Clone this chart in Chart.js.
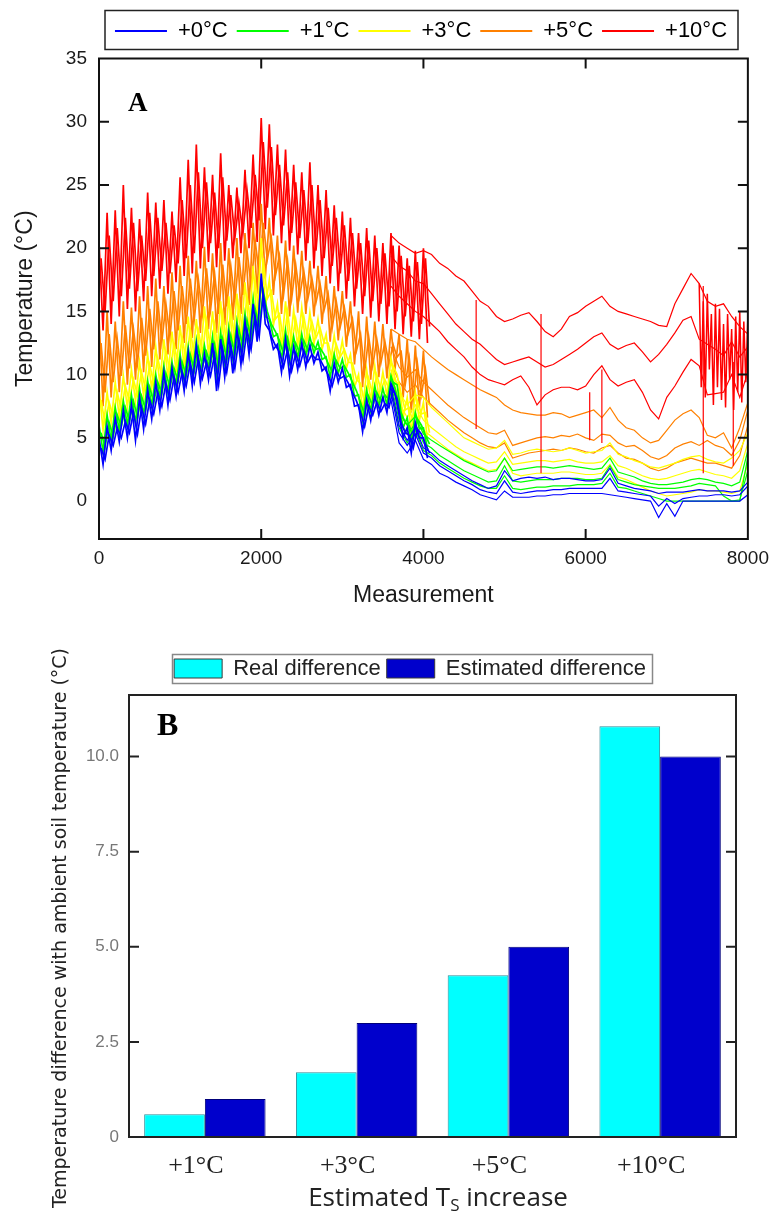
<!DOCTYPE html>
<html>
<head>
<meta charset="utf-8">
<script src="https://cdn.jsdelivr.net/npm/chart.js@4.4.1/dist/chart.umd.min.js"></script>
<style>
  html, body { margin: 0; padding: 0; background: #fff; }
  #page { position: relative; width: 777px; height: 1213px; }
  #chartA { position: absolute; left: 0; top: 0; }
  #chartB { position: absolute; left: 0; top: 612px; }
</style>
</head>
<body>
<div id="page">
  <canvas id="chartA" width="777" height="612"></canvas>
  <canvas id="chartB" width="777" height="601"></canvas>
</div>
<script>
// ---------- Panel A : soil temperature per warming treatment ----------
const treatments = ['+0°C', '+1°C', '+3°C', '+5°C', '+10°C'];
const xTicksA = [0, 2000, 4000, 6000, 8000];
const yTicksA = [0, 5, 10, 15, 20, 25, 30, 35];

// first part (noisy): daily max / min of two sensors per treatment, every 100 measurements
const bandX = Array.from({ length: 41 }, (_, i) => i * 100);
const blueHi = [5.0,5.9,6.6,7.2,7.6,8.2,8.8,9.4,10.2,10.5,11.0,11.8,12.3,11.6,12.5,12.8,13.1,13.6,14.2,15.6,18.0,13.5,12.4,12.8,12.2,12.5,12.3,11.8,10.6,10.9,10.5,9.2,7.6,8.0,8.4,8.2,9.3,6.8,5.8,6.2,5.0];
const blueLo = [2.9,4.0,4.7,5.0,4.8,5.7,6.5,7.2,7.6,8.3,8.7,9.1,9.3,9.6,8.7,9.8,10.1,10.8,11.6,12.6,14.0,12.0,10.2,9.9,10.4,10.6,10.9,10.3,8.7,9.4,9.0,7.5,5.5,6.4,6.8,7.0,8.5,5.0,3.8,5.0,3.4];
const blueHi2 = [4.2,5.2,5.8,6.3,7.0,7.4,8.0,8.6,9.3,9.8,10.2,10.9,11.3,11.0,11.6,12.0,12.3,12.8,13.5,14.6,16.4,13.0,11.8,12.0,11.7,11.9,11.6,11.2,10.0,10.3,9.9,8.6,7.0,7.5,7.8,7.7,8.8,6.2,5.2,5.7,4.5];
const blueLo2 = [3.3,4.4,5.0,5.4,5.3,6.1,6.9,7.5,8.0,8.6,9.1,9.4,9.7,9.9,9.2,10.2,10.5,11.1,12.0,13.0,14.4,12.3,10.6,10.3,10.7,11.0,11.2,10.6,9.1,9.7,9.3,7.9,5.9,6.8,7.1,7.4,8.1,5.4,4.2,5.3,3.8];
const greenHi = [6.0,6.8,7.4,7.9,8.4,8.9,9.5,10.0,10.7,11.0,11.6,12.2,12.7,12.3,13.0,13.3,13.7,14.2,14.8,16.0,17.4,14.4,13.2,13.5,13.0,13.2,13.0,12.6,11.4,11.6,11.2,10.0,8.4,8.8,9.1,8.9,9.9,7.6,6.6,7.0,5.8];
const greenLo = [3.9,4.8,5.6,6.0,6.2,6.8,7.5,8.2,8.6,9.2,9.5,9.9,10.2,10.5,10.0,10.8,11.2,11.8,12.5,13.4,14.6,13.0,11.2,11.0,11.3,11.5,11.7,11.2,9.8,10.1,9.8,8.3,6.4,7.1,7.5,7.6,8.9,5.8,4.6,5.7,4.1];
const greenHi2 = [5.4,6.2,6.8,7.4,7.9,8.3,9.0,9.4,10.1,10.5,11.0,11.6,12.1,11.8,12.4,12.8,13.1,13.6,14.3,15.2,16.6,14.0,12.7,12.9,12.5,12.7,12.5,12.1,10.9,11.1,10.7,9.4,7.8,8.3,8.6,8.4,9.4,7.0,6.0,6.5,5.2];
const greenLo2 = [4.3,5.1,5.9,6.3,6.6,7.2,7.8,8.5,9.0,9.5,9.9,10.3,10.6,10.8,10.4,11.1,11.5,12.1,12.8,13.8,15.0,13.4,11.6,11.4,11.7,11.9,12.0,11.6,10.2,10.5,10.1,8.7,6.8,7.5,7.9,8.0,9.2,6.2,5.0,6.0,4.5];
const yellowHi = [9.0,8.6,9.4,9.9,10.4,11.0,11.6,12.2,12.8,13.4,13.9,14.6,14.4,15.4,15.0,15.8,16.2,16.4,17.3,18.6,20.8,17.5,15.6,15.8,15.1,15.3,14.9,14.4,13.2,13.1,12.7,11.6,10.0,10.4,10.7,10.2,11.3,9.2,8.2,8.6,7.8];
const yellowLo = [5.6,6.2,6.6,7.4,7.9,8.3,8.8,9.3,9.7,10.2,10.5,10.9,11.2,11.5,11.2,11.8,12.2,12.7,13.4,14.2,15.3,13.9,12.1,11.9,12.2,12.3,12.4,12.0,10.7,10.9,10.5,9.0,7.1,7.9,8.2,8.3,9.5,6.6,5.4,6.4,4.8];
const yellowHi2 = [8.0,7.8,8.6,9.1,9.6,10.2,10.8,11.3,11.9,12.5,13.0,13.6,13.5,14.3,14.0,14.8,15.1,15.5,16.2,17.4,19.2,16.6,14.8,15.0,14.4,14.6,14.2,13.7,12.5,12.4,12.0,10.9,9.3,9.7,10.0,9.6,10.7,8.5,7.4,7.9,7.0];
const yellowLo2 = [6.1,6.7,7.2,7.9,8.4,8.8,9.3,9.8,10.2,10.7,11.0,11.4,11.7,12.0,11.7,12.3,12.7,13.2,13.9,14.8,16.0,14.4,12.6,12.4,12.7,12.8,12.9,12.5,11.2,11.4,11.0,9.6,7.7,8.4,8.8,8.9,10.0,7.2,6.0,6.9,5.4];
const orangeHi = [14.5,15.0,14.2,15.8,15.3,16.2,17.0,17.6,17.0,18.1,18.6,19.4,19.0,20.1,19.6,20.4,20.0,20.8,21.2,22.0,23.5,22.4,21.0,20.6,20.2,19.8,19.0,18.6,17.8,17.0,16.6,15.8,15.0,14.6,14.2,14.0,13.6,13.2,12.8,12.3,11.9];
const orangeLo = [7.5,8.2,8.6,9.2,9.6,10.2,10.6,11.2,11.6,12.0,12.5,12.9,13.3,13.6,13.3,13.9,14.3,14.8,15.5,16.4,17.6,16.3,14.8,14.6,14.9,14.8,14.6,14.0,12.6,12.7,12.2,10.8,9.0,9.6,9.8,9.7,10.5,8.2,7.0,7.4,6.6];
const orangeHi2 = [12.5,13.2,12.8,13.9,13.6,14.5,15.2,15.8,15.6,16.6,17.0,17.6,17.5,18.4,18.0,18.7,18.6,19.3,19.8,20.6,22.0,20.8,19.4,19.0,18.7,18.2,17.6,17.2,16.4,15.8,15.3,14.4,13.2,13.0,12.8,12.6,12.4,11.8,11.3,10.9,10.4];
const orangeLo2 = [8.6,9.4,9.9,10.5,10.9,11.5,12.0,12.6,13.0,13.5,14.0,14.4,14.8,15.1,14.8,15.4,15.8,16.3,17.0,17.9,19.1,17.8,16.3,16.0,16.2,16.0,15.7,15.1,13.7,13.8,13.3,11.9,10.2,10.7,10.9,10.8,11.4,9.2,8.0,8.4,7.6];
const redHi = [20.5,22.8,23.0,25.0,23.2,22.3,24.4,23.6,23.8,22.9,25.6,27.0,28.2,26.4,25.8,27.5,25.0,24.8,26.2,27.4,30.3,29.8,28.2,27.8,26.6,26.0,26.8,25.0,24.6,23.4,22.9,22.4,21.2,21.6,21.0,20.4,21.2,20.2,19.2,19.8,20.0];
const redLo = [13.5,14.0,14.6,15.2,15.0,15.8,16.2,16.8,16.4,17.3,17.8,18.0,18.4,18.9,18.5,19.0,19.2,19.6,20.0,20.5,21.5,21.0,20.4,19.8,19.5,19.0,18.4,17.8,17.2,16.6,16.0,15.4,14.8,14.5,14.2,14.0,13.6,13.2,13.0,12.8,12.5];
const redHi2 = [19.2,21.0,21.6,22.4,22.0,21.0,22.8,22.4,22.0,21.8,23.8,25.0,26.0,25.2,24.4,25.6,24.2,23.6,24.6,25.8,28.4,28.0,26.6,26.0,25.2,24.6,25.0,23.8,23.2,22.4,21.8,21.2,20.4,20.6,20.0,19.6,20.2,19.4,18.6,18.9,19.2];
const redLo2 = [15.0,15.8,16.2,16.8,16.6,17.4,17.8,18.2,18.0,18.8,19.2,19.6,20.0,20.4,20.0,20.6,20.8,21.2,21.6,22.2,23.2,22.6,21.8,21.2,20.8,20.4,19.8,19.2,18.6,18.0,17.4,16.8,16.2,15.8,15.6,15.4,15.0,14.6,14.2,14.0,13.8];

// second part: single sensors, every 100 measurements from 3600 to 8000
const lateX = Array.from({ length: 45 }, (_, i) => 3600 + i * 100);
const blue1 = [8.0,4.6,3.8,4.8,3.3, 2.9,2.2,1.9,1.5,1.2, 0.9,0.5,0.3,0.1,0.8, 0.3,0.3,0.3,0.4,0.4, 0.5,0.5,0.6,0.6,0.6, 0.6,0.6,0.5,0.4,0.3, 0.2,0.1,0.0,-1.3,-0.2, -1.2,0.0,0.0,0.0,0.0, 0.0,0.0,0.0,0.0,0.5];
const blue2 = [8.6,5.4,4.4,5.3,3.8, 3.4,2.8,2.4,2.0,1.6, 1.3,0.9,0.7,0.6,1.6, 0.7,0.6,0.7,0.8,0.8, 0.9,0.9,1.0,1.0,1.0, 1.0,1.0,1.8,0.8,0.7, 0.6,0.5,0.4,-0.4,0.2, -0.2,0.2,0.3,0.4,0.4, 0.5,0.5,0.4,0.5,1.2];
const blue3 = [9.0,6.0,4.8,5.8,4.2, 3.8,3.2,2.8,2.4,2.0, 1.6,1.3,1.0,1.2,2.4, 1.6,1.8,1.9,1.8,1.9, 1.7,1.8,1.8,1.7,1.6, 1.6,1.7,2.6,1.4,1.2, 1.0,0.9,0.8,0.6,0.7, 0.7,0.7,0.8,0.9,0.8, 0.8,0.8,0.7,0.8,1.5];
const green1 = [8.8,5.8,4.6,5.6,4.0, 3.6,3.0,2.6,2.2,1.8, 1.5,1.2,1.0,1.0,2.0, 1.0,0.9,1.0,1.1,1.1, 1.2,1.2,1.2,1.3,1.3, 1.3,1.4,2.2,1.1,1.0, 0.8,0.6,0.4,0.2,0.0, 0.0,0.0,0.0,0.0,0.0, 0.0,0.0,0.0,0.1,2.4];
const green2 = [9.3,6.4,5.3,6.1,4.6, 4.2,3.6,3.2,2.8,2.4, 2.1,1.8,1.5,1.6,2.8, 1.6,1.5,1.6,1.7,1.7, 1.7,1.8,1.8,1.8,1.7, 1.7,1.8,2.8,1.7,1.5, 1.3,1.2,1.1,1.0,1.0, 1.0,1.1,1.2,1.4,1.3, 1.2,0.4,0.0,0.0,3.5];
const green3 = [9.7,7.0,6.0,6.7,5.3, 4.8,4.4,4.0,3.6,3.2, 2.9,2.6,2.3,2.4,3.4, 2.4,2.5,2.6,2.7,2.7, 2.6,2.7,2.8,2.7,2.6, 2.5,2.6,3.4,2.3,2.1, 1.9,1.6,1.4,1.3,1.3, 1.4,1.5,1.7,1.8,1.7, 1.5,1.4,1.2,1.5,4.0];
const yellow1 = [10.0,7.2,6.0,7.0,5.6, 5.1,4.6,4.1,3.7,3.3, 3.0,2.7,2.4,2.5,3.4, 2.2,2.0,2.1,2.2,2.2, 2.2,2.3,2.3,2.2,2.1, 2.1,2.2,2.9,1.9,1.7, 1.4,1.1,0.8,0.6,0.4, 0.5,0.6,0.7,0.9,0.8, 0.8,0.7,0.6,0.8,3.0];
const yellow2 = [10.4,7.8,6.6,7.6,6.4, 5.8,5.3,4.8,4.3,3.9, 3.6,3.3,3.0,3.1,3.9, 2.9,3.0,3.1,3.2,3.2, 3.1,3.2,3.3,3.1,3.0, 3.0,3.1,3.6,2.8,2.6, 2.3,2.0,1.8,1.7,1.8, 2.0,2.2,2.4,2.5,2.3, 2.1,2.0,1.8,2.4,4.6];
const yellow3 = [11.0,8.6,7.6,8.4,8.2, 7.4,6.8,6.2,5.6,5.0, 4.7,4.4,4.1,4.2,4.8, 3.7,3.8,4.0,4.1,4.0, 3.9,4.0,4.2,4.0,3.8, 3.9,4.0,4.6,3.7,3.5, 3.2,3.0,2.7,2.6,2.8, 3.0,3.3,3.5,3.6,3.3, 3.1,3.0,3.4,4.0,5.4];
const orange1 = [13.6,13.2,12.8,12.6,12.0, 11.4,10.9,10.4,10.0,9.6, 9.2,8.8,8.5,8.2,7.6, 7.2,7.0,6.9,6.8,6.8, 7.0,6.9,6.6,6.8,7.0, 7.2,6.6,7.4,6.4,5.8, 5.6,5.0,4.6,4.8,5.6, 6.4,6.9,7.2,6.6,5.2, 5.0,5.4,4.2,5.8,7.8];
const orange2 = [12.2,10.6,9.8,10.4,9.4, 8.8,8.2,7.6,7.1,6.6, 6.2,5.8,5.4,5.3,5.6, 4.4,4.6,4.8,5.0,5.1, 5.0,5.2,5.1,5.3,5.0, 4.8,5.3,5.2,4.6,4.3, 4.4,4.0,3.5,3.3,3.6, 4.2,4.5,4.7,4.4,4.8, 4.4,4.2,3.6,4.8,7.2];
const orange3 = [11.0,9.4,8.6,9.2,8.2, 7.6,7.0,6.4,5.9,5.4, 5.0,4.6,4.3,4.2,4.6, 3.4,3.6,3.8,3.9,4.0, 4.1,4.0,4.2,4.1,3.9, 3.8,4.2,4.4,3.8,3.4, 3.3,3.0,2.6,2.4,2.6, 3.0,3.2,3.4,3.2,3.0, 3.0,2.8,2.6,3.6,6.0];
const red1 = [21.0,20.4,20.0,19.6,19.8, 19.5,18.8,18.4,17.8,17.4, 16.6,15.8,15.4,14.6,14.2, 14.4,14.7,14.9,14.2,13.4, 13.0,13.6,14.6,14.9,15.4, 15.8,16.2,15.4,15.0,14.8, 14.6,14.4,14.2,13.9,13.8, 15.6,16.8,18.0,17.2,15.8, 15.4,15.6,14.6,13.8,13.2];
const red2 = [19.4,18.6,18.2,17.4,17.2, 16.4,15.6,14.8,14.0,13.4, 12.8,12.4,11.8,11.2,10.8, 11.0,11.2,11.4,11.0,10.6, 10.8,11.2,11.6,12.0,12.5, 13.0,13.3,12.4,12.0,12.3, 12.5,11.8,11.0,11.6,12.4, 13.3,14.3,14.6,12.8,12.4, 12.0,11.5,12.6,11.4,12.2];
const red3 = [17.0,16.2,15.6,15.0,14.6, 14.0,13.4,12.6,12.0,11.4, 10.6,10.0,9.6,9.4,9.2, 9.6,9.9,9.0,7.6,8.4, 8.8,9.0,9.0,8.8,9.1, 10.0,10.7,9.6,9.1,9.4, 9.6,8.6,7.2,6.5,8.2, 9.1,10.2,11.2,10.7,8.4, 8.5,8.6,10.0,8.2,10.2];

// noisy end of the +10°C sensors (max / min every 50 measurements)
const redEndX = Array.from({ length: 13 }, (_, i) => 7400 + i * 50);
const redEndHi = [17.2,15.8,16.4,14.8,15.6,15.2,14.0,14.8,13.6,14.6,15.0,14.2,14.6];
const redEndLo = [9.0,8.2,10.4,7.6,9.0,8.0,7.4,9.6,7.2,8.6,7.8,9.4,10.0];

// sensor glitches of the +10°C plot: [measurement, from, to]
const redGlitches = [[4650, 15.9, 5.7], [5450, 14.8, 2.2], [6050, 8.6, 4.8], [6200, 10.4, 4.6], [7450, 17.0, 2.2], [7820, 11.0, 2.8]];

// ---------- Panel B : real vs estimated warming ----------
const groups = ['+1°C', '+3°C', '+5°C', '+10°C'];
const realDiff = [0.6, 1.7, 4.25, 10.8];
const estimatedDiff = [1.0, 3.0, 5.0, 10.0];
const yTicksB = [0, 2.5, 5, 7.5, 10];

const colors = { blue: '#0000ff', green: '#00ff00', yellow: '#ffff00', orange: '#ff8000', red: '#ff0000' };
const legendColors = [colors.blue, colors.green, colors.yellow, colors.orange, colors.red];

function zigzag(xs, hi, lo, half, shift) {
  const pts = [];
  xs.forEach((x, i) => {
    pts.push({ x: x + shift, y: hi[i] });
    pts.push({ x: x + shift + half, y: lo[i] });
  });
  return pts;
}
function sensor(ys) {
  return lateX.map((x, i) => ({ x: x, y: ys[i] }));
}
function line(data, color, width) {
  return { data: data, borderColor: color, backgroundColor: color, borderWidth: width || 1.2, pointRadius: 0, tension: 0, fill: false };
}

// frame, inward ticks, legend box, panel letters and hand-set titles
function overlay(cfg) {
  return {
    id: 'overlay',
    afterLayout(chart) {
      const lg = chart.legend;
      const dx = cfg.legendCx - (lg.left + lg.right) / 2;
      lg.left += dx; lg.right += dx;
      lg.top += cfg.legendDy; lg.bottom += cfg.legendDy;
    },
    afterDraw(chart) {
      const { ctx, chartArea: a, scales } = chart;
      ctx.save();
      ctx.strokeStyle = cfg.frameColor;
      ctx.lineWidth = 2;
      ctx.beginPath();
      cfg.yTicks.forEach(v => {
        const y = scales.y.getPixelForValue(v);
        ctx.moveTo(a.left, y); ctx.lineTo(a.left + 10, y);
        ctx.moveTo(a.right, y); ctx.lineTo(a.right - 10, y);
      });
      cfg.xTicks.forEach(v => {
        const x = scales.x.getPixelForValue(v);
        ctx.moveTo(x, a.top); ctx.lineTo(x, a.top + 10);
        ctx.moveTo(x, a.bottom); ctx.lineTo(x, a.bottom - 10);
      });
      ctx.stroke();
      ctx.strokeRect(a.left, a.top, a.width, a.height);
      const b = cfg.legendBox;
      ctx.strokeStyle = cfg.legendBoxColor;
      ctx.lineWidth = 1.5;
      ctx.strokeRect(b[0], b[1], b[2], b[3]);
      ctx.fillStyle = '#000';
      ctx.textBaseline = 'alphabetic';
      ctx.textAlign = 'left';
      ctx.font = cfg.letterFont;
      ctx.fillText(cfg.letter, cfg.letterX, cfg.letterY);
      if (cfg.xTitle) {
        const t = cfg.xTitle;
        let w = 0;
        const widths = t.parts.map(p => { ctx.font = p.font; const m = ctx.measureText(p.text).width; w += m; return m; });
        let x = t.cx - w / 2;
        ctx.fillStyle = t.color;
        t.parts.forEach((p, i) => {
          ctx.font = p.font;
          ctx.fillText(p.text, x, t.y + (p.dy || 0));
          x += widths[i];
        });
      }
      if (cfg.yTitle) {
        const t = cfg.yTitle;
        ctx.save();
        ctx.translate(t.x, t.y);
        ctx.rotate(-Math.PI / 2);
        ctx.font = t.font;
        ctx.fillStyle = t.color;
        ctx.textAlign = 'center';
        ctx.textBaseline = 'middle';
        ctx.fillText(t.text, 0, 0);
        ctx.restore();
      }
      ctx.restore();
    }
  };
}

// datasets: the first one is drawn on top
const datasetsA = [];
redGlitches.forEach(g => datasetsA.push(line([{ x: g[0], y: g[1] }, { x: g[0], y: g[2] }], colors.red)));
[blue1, blue2, blue3].forEach(s => datasetsA.push(line(sensor(s), colors.blue)));
datasetsA.push(line(zigzag(bandX, blueHi, blueLo, 50, 0), colors.blue, 1.7));
datasetsA.push(line(zigzag(bandX, blueHi2, blueLo2, 50, 25), colors.blue, 1.7));
[green1, green2, green3].forEach(s => datasetsA.push(line(sensor(s), colors.green)));
datasetsA.push(line(zigzag(bandX, greenHi, greenLo, 50, 0), colors.green, 1.7));
datasetsA.push(line(zigzag(bandX, greenHi2, greenLo2, 50, 25), colors.green, 1.7));
[yellow1, yellow2, yellow3].forEach(s => datasetsA.push(line(sensor(s), colors.yellow)));
datasetsA.push(line(zigzag(bandX, yellowHi, yellowLo, 50, 0), colors.yellow, 1.7));
datasetsA.push(line(zigzag(bandX, yellowHi2, yellowLo2, 50, 25), colors.yellow, 1.7));
[orange1, orange2, orange3].forEach(s => datasetsA.push(line(sensor(s), colors.orange)));
datasetsA.push(line(zigzag(bandX, orangeHi, orangeLo, 50, 0), colors.orange, 1.7));
datasetsA.push(line(zigzag(bandX, orangeHi2, orangeLo2, 50, 25), colors.orange, 1.7));
datasetsA.push(line(zigzag(redEndX, redEndHi, redEndLo, 25, 0), colors.red, 1.5));
[red1, red2, red3].forEach(s => datasetsA.push(line(sensor(s), colors.red)));
datasetsA.push(line(zigzag(bandX, redHi, redLo, 50, 0), colors.red, 1.7));
datasetsA.push(line(zigzag(bandX, redHi2, redLo2, 50, 25), colors.red, 1.7));

const sans = "'Liberation Sans', Arial, sans-serif";
const serif = "'Liberation Serif', 'Times New Roman', serif";

new Chart(document.getElementById('chartA').getContext('2d'), {
  type: 'line',
  data: { datasets: datasetsA },
  options: {
    responsive: false,
    animation: false,
    layout: { padding: { top: 17.5, right: 23, left: 0, bottom: 0 } },
    plugins: {
      tooltip: { enabled: false },
      legend: {
        position: 'top',
        labels: {
          font: { family: sans, size: 22 },
          color: '#000',
          boxWidth: 52,
          boxHeight: 2,
          padding: 9,
          generateLabels: () => treatments.map((t, i) => ({
            text: t, fillStyle: legendColors[i], strokeStyle: legendColors[i],
            lineWidth: 0, fontColor: '#000', hidden: false, datasetIndex: 0
          }))
        }
      }
    },
    scales: {
      x: {
        type: 'linear', min: 0, max: 8000,
        afterBuildTicks: s => { s.ticks = xTicksA.map(v => ({ value: v })); },
        afterFit: s => { s.height = 73; },
        grid: { display: false, drawTicks: false },
        border: { display: false },
        ticks: { padding: 8, font: { family: sans, size: 19 }, color: '#1a1a1a', maxRotation: 0, autoSkip: false, callback: v => String(v) },
        title: { display: true, text: 'Measurement', font: { family: sans, size: 23 }, color: '#1a1a1a', padding: { top: 0, bottom: 3 } }
      },
      y: {
        type: 'linear', min: -3, max: 35,
        afterBuildTicks: s => { s.ticks = yTicksA.map(v => ({ value: v })); },
        afterFit: s => { s.width = 99; },
        grid: { display: false, drawTicks: false },
        border: { display: false },
        ticks: { padding: 12, font: { family: sans, size: 19 }, color: '#1a1a1a', callback: v => String(v) },
        title: { display: true, text: 'Temperature (°C)', font: { family: sans, size: 23 }, color: '#1a1a1a', padding: { top: 12, bottom: 0 } }
      }
    }
  },
  plugins: [overlay({
    legendCx: 421, legendDy: -6.5,
    legendBox: [105, 10.5, 633, 39], legendBoxColor: '#222',
    frameColor: '#111',
    yTicks: [5, 10, 15, 20, 25, 30], xTicks: [2000, 4000, 6000],
    letter: 'A', letterFont: "bold 27px " + serif, letterX: 128, letterY: 111
  })]
});

new Chart(document.getElementById('chartB').getContext('2d'), {
  type: 'bar',
  data: {
    labels: groups,
    datasets: [
      { label: 'Real difference', data: realDiff, backgroundColor: '#00ffff', borderColor: '#2b8d98', borderWidth: 1 },
      { label: 'Estimated difference', data: estimatedDiff, backgroundColor: '#0000cc', borderColor: '#00007a', borderWidth: 1 }
    ]
  },
  options: {
    responsive: false,
    animation: false,
    layout: { padding: { top: 45, right: 41, left: 0, bottom: 0 } },
    datasets: { bar: { categoryPercentage: 0.8, barPercentage: 1.0 } },
    plugins: {
      tooltip: { enabled: false },
      legend: {
        position: 'top',
        labels: {
          font: { family: sans, size: 22 },
          color: '#222',
          boxWidth: 48,
          boxHeight: 19,
          padding: 6,
          generateLabels: chart => chart.data.datasets.map((d, i) => ({
            text: d.label, fillStyle: d.backgroundColor, strokeStyle: '#3a3a3a',
            lineWidth: 1, fontColor: '#222', hidden: false, datasetIndex: i
          }))
        }
      }
    },
    scales: {
      x: {
        afterFit: s => { s.height = 76; },
        grid: { display: false, drawTicks: false },
        border: { display: false },
        ticks: { padding: 14, labelOffset: -9, font: { family: serif, size: 26 }, color: '#222' }
      },
      y: {
        min: 0, max: 11.62,
        afterBuildTicks: s => { s.ticks = yTicksB.map(v => ({ value: v })); },
        afterFit: s => { s.width = 129; },
        grid: { display: false, drawTicks: false },
        border: { display: false },
        ticks: { padding: 10, font: { family: sans, size: 17 }, color: '#777', callback: v => (v === 0 ? '0' : v.toFixed(1)) }
      }
    }
  },
  plugins: [overlay({
    legendCx: 410, legendDy: -5.5,
    legendBox: [172.5, 42.5, 480, 29], legendBoxColor: '#888',
    frameColor: '#222',
    yTicks: [2.5, 5, 7.5, 10], xTicks: [],
    letter: 'B', letterFont: "bold 32px " + serif, letterX: 157, letterY: 123,
    xTitle: {
      cx: 438, y: 594, color: '#222',
      parts: [
        { text: 'Estimated T', font: "26px 'Open Sans', sans-serif" },
        { text: 'S', font: "17px 'Open Sans', sans-serif", dy: 5 },
        { text: ' increase', font: "26px 'Open Sans', sans-serif" }
      ]
    },
    yTitle: {
      text: 'Temperature difference with ambient soil temperature (°C)',
      x: 61, y: 316, color: '#222', font: "19px 'DejaVu Sans', Verdana, sans-serif"
    }
  })]
});
</script>
</body>
</html>
